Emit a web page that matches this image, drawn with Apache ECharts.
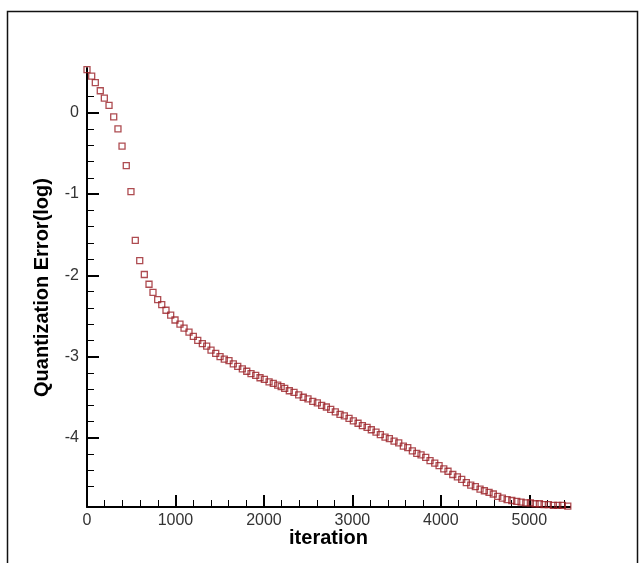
<!DOCTYPE html>
<html>
<head>
<meta charset="utf-8">
<script src="https://cdn.jsdelivr.net/npm/echarts@6/dist/echarts.min.js"></script>
<style>
  html, body { margin: 0; padding: 0; background: #fff; }
  #chart { width: 639px; height: 563px; }
</style>
</head>
<body>
<div id="chart"></div>
<script>
// iteration of each sample
var iterations = [
  0, 53, 94, 150, 196, 249, 302, 350, 396, 444,
  497, 546, 596, 648, 701, 746, 799, 845, 893, 946,
  995, 1051, 1097, 1153, 1202, 1252, 1304, 1353, 1402, 1455,
  1504, 1552, 1605, 1654, 1704, 1756, 1806, 1854, 1907, 1956,
  2005, 2058, 2106, 2156, 2195, 2235, 2287, 2340, 2393, 2445,
  2498, 2552, 2604, 2653, 2706, 2755, 2807, 2860, 2909, 2962,
  3011, 3064, 3113, 3166, 3214, 3267, 3316, 3369, 3418, 3471,
  3524, 3576, 3626, 3678, 3728, 3776, 3829, 3878, 3931, 3980,
  4033, 4081, 4135, 4187, 4236, 4288, 4338, 4390, 4443, 4492,
  4545, 4593, 4643, 4695, 4749, 4802, 4858, 4907, 4960, 5012,
  5065, 5114, 5167, 5215, 5272, 5322, 5374, 5435
];
// quantization error (log10)
var qerror = [
  0.53, 0.45, 0.37, 0.27, 0.18, 0.09, -0.05, -0.20, -0.41, -0.65,
  -0.97, -1.57, -1.82, -1.99, -2.11, -2.21, -2.30, -2.36, -2.43, -2.49,
  -2.55, -2.60, -2.65, -2.70, -2.75, -2.80, -2.84, -2.87, -2.92, -2.96,
  -3.00, -3.03, -3.05, -3.09, -3.12, -3.15, -3.18, -3.21, -3.23, -3.26,
  -3.28, -3.31, -3.33, -3.35, -3.37, -3.39, -3.42, -3.44, -3.47, -3.50,
  -3.52, -3.55, -3.57, -3.60, -3.62, -3.65, -3.68, -3.71, -3.73, -3.76,
  -3.79, -3.82, -3.85, -3.87, -3.90, -3.93, -3.96, -3.99, -4.01, -4.04,
  -4.06, -4.10, -4.12, -4.16, -4.19, -4.21, -4.24, -4.28, -4.31, -4.34,
  -4.38, -4.41, -4.45, -4.48, -4.51, -4.55, -4.58, -4.60, -4.63, -4.65,
  -4.67, -4.69, -4.72, -4.74, -4.76, -4.77, -4.78, -4.79, -4.80, -4.80,
  -4.81, -4.81, -4.82, -4.82, -4.83, -4.83, -4.83, -4.84
];
// tick marks
var xMajor = [0, 1000, 2000, 3000, 4000, 5000];
var xMinor = [200, 400, 600, 800, 1200, 1400, 1600, 1800, 2200, 2400, 2600, 2800,
  3200, 3400, 3600, 3800, 4200, 4400, 4600, 4800, 5200, 5400];
var yMajor = [0, -1, -2, -3, -4];
var yMinor = [0.2, -0.2, -0.4, -0.6, -0.8, -1.2, -1.4, -1.6, -1.8, -2.2, -2.4, -2.6, -2.8,
  -3.2, -3.4, -3.6, -3.8, -4.2, -4.4, -4.6];

var points = iterations.map(function (it, i) { return [it, qerror[i]]; });

var font = "'Liberation Sans', Arial, sans-serif";
var plain = function (v) { return String(v); };
var myChart = echarts.init(document.getElementById('chart'));

myChart.setOption({
  animation: false,
  backgroundColor: '#fff',
  graphic: [{
    type: 'rect',
    shape: { x: 7.5, y: 11.5, width: 630, height: 570 },
    style: { fill: 'none', stroke: '#111', lineWidth: 1.5 },
    silent: true
  }],
  grid: { left: 87, top: 68, width: 483, height: 439 },
  xAxis: [{
    type: 'value',
    min: 0,
    max: 5460,
    position: 'bottom',
    name: 'iteration',
    nameLocation: 'middle',
    nameGap: 21,
    nameMoveOverlap: false,
    nameTextStyle: { color: '#000', fontWeight: 'bold', fontSize: 20, fontFamily: font },
    axisLine: { onZero: false, lineStyle: { color: '#000', width: 2 } },
    axisTick: { inside: true, length: 12, customValues: xMajor, lineStyle: { color: '#000', width: 2 } },
    axisLabel: { customValues: xMajor, formatter: plain, color: '#333', fontSize: 16, margin: 6, fontFamily: font },
    splitLine: { show: false }
  }, {
    type: 'value',
    min: 0,
    max: 5460,
    position: 'bottom',
    axisLine: { show: false, onZero: false },
    axisTick: { inside: true, length: 7, customValues: xMinor, lineStyle: { color: '#000', width: 1 } },
    axisLabel: { show: false },
    splitLine: { show: false }
  }],
  yAxis: [{
    type: 'value',
    min: -4.85,
    max: 0.55,
    position: 'left',
    name: 'Quantization Error(log)',
    nameLocation: 'middle',
    nameGap: 35,
    nameMoveOverlap: false,
    nameTextStyle: { color: '#000', fontWeight: 'bold', fontSize: 20, fontFamily: font },
    axisLine: { onZero: false, lineStyle: { color: '#000', width: 2 } },
    axisTick: { inside: true, length: 12, customValues: yMajor, lineStyle: { color: '#000', width: 2 } },
    axisLabel: { customValues: yMajor, formatter: plain, color: '#333', fontSize: 16, margin: 8, fontFamily: font },
    splitLine: { show: false }
  }, {
    type: 'value',
    min: -4.85,
    max: 0.55,
    position: 'left',
    axisLine: { show: false, onZero: false },
    axisTick: { inside: true, length: 7, customValues: yMinor, lineStyle: { color: '#000', width: 1 } },
    axisLabel: { show: false },
    splitLine: { show: false }
  }],
  series: [{
    type: 'scatter',
    xAxisIndex: 0,
    yAxisIndex: 0,
    symbol: 'rect',
    symbolSize: 6,
    itemStyle: { color: 'rgba(0,0,0,0)', borderColor: '#9a1f26', borderWidth: 1.3 },
    data: points
  }]
});
</script>
</body>
</html>
